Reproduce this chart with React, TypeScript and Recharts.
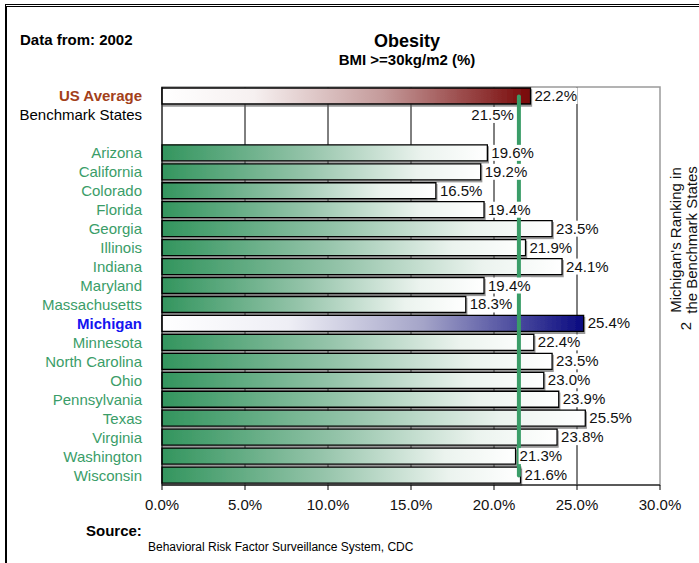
import React from 'react';
import { ComposedChart, Bar, XAxis, YAxis, CartesianGrid, ReferenceLine, ReferenceArea, LabelList, Cell } from 'recharts';

const categories = [
  'US Average', 'Benchmark States', ' ',
  'Arizona', 'California', 'Colorado', 'Florida', 'Georgia', 'Illinois', 'Indiana',
  'Maryland', 'Massachusetts', 'Michigan', 'Minnesota', 'North Carolina', 'Ohio',
  'Pennsylvania', 'Texas', 'Virginia', 'Washington', 'Wisconsin',
];
const values = [
  22.2, 21.5, null,
  19.6, 19.2, 16.5, 19.4, 23.5, 21.9, 24.1,
  19.4, 18.3, 25.4, 22.4, 23.5, 23.0,
  23.9, 25.5, 23.8, 21.3, 21.6,
];
const xTicks = [0, 5, 10, 15, 20, 25, 30];
const benchmark = 21.5;
const michiganRank = '2';

const data = categories.map((name, i) => ({ name, value: values[i] }));

const font = '"Liberation Sans", Arial, Helvetica, sans-serif';

const labelColor = (name: string) => {
  if (name === 'US Average') return '#a3401a';
  if (name === 'Michigan') return '#1414f0';
  if (name === 'Benchmark States') return '#000';
  return '#3a9d68';
};

const CategoryTick = (props: any) => {
  const { x, y, payload } = props;
  const name = payload.value;
  const bold = name === 'US Average' || name === 'Michigan';
  return (
    <text x={x - 20} y={y} dy={5} textAnchor="end" fontSize={15} fontFamily={font}
      fontWeight={bold ? 700 : 400} fill={labelColor(name)}>
      {name}
    </text>
  );
};

const ValueLabel = (props: any) => {
  const { x, y, width, height, value, index } = props;
  if (value == null) return null;
  const txt = `${Number(value).toFixed(1)}%`;
  const w = txt.length * 8.4;
  const isBench = categories[index] === 'Benchmark States';
  const tx = isBench ? x + width - 5 : x + width + 4;
  const rx = isBench ? tx - w - 1 : tx - 1;
  const cy = y + height / 2;
  return (
    <g>
      <rect x={rx} y={cy - 8} width={w + 2} height={16} fill="#fff" />
      <text x={tx} y={cy} dy={5} textAnchor={isBench ? 'end' : 'start'} fontSize={15}
        fontFamily={font} fill="#111">
        {txt}
      </text>
    </g>
  );
};

const fillFor = (name: string) => {
  if (name === 'US Average') return 'url(#gradRed)';
  if (name === 'Michigan') return 'url(#gradBlue)';
  if (name === 'Benchmark States') return 'none';
  return 'url(#gradGreen)';
};

export default function App() {
  return (
    <div style={{ position: 'absolute', left: 0, top: 0, width: 699, height: 563, background: '#fff', fontFamily: font, overflow: 'hidden' }}>
      <div style={{ position: 'absolute', left: 5, top: 4, width: 700, height: 600, borderLeft: '2px solid #000', borderTop: '3px double #000' }} />
      <div style={{ position: 'absolute', left: 20, top: 31, fontSize: 15, fontWeight: 700 }}>Data from: 2002</div>
      <div style={{ position: 'absolute', left: 257, width: 300, top: 31, textAlign: 'center', fontSize: 18, fontWeight: 700 }}>Obesity</div>
      <div style={{ position: 'absolute', left: 257, width: 300, top: 51, textAlign: 'center', fontSize: 15, fontWeight: 700 }}>BMI &gt;=30kg/m2 (%)</div>
      <div style={{ position: 'absolute', left: 86, top: 522, fontSize: 15, fontWeight: 700 }}>Source:</div>
      <div style={{ position: 'absolute', left: 148, top: 540, fontSize: 12 }}>Behavioral Risk Factor Surveillance System, CDC</div>
      <div style={{ position: 'absolute', left: 0, top: 0 }}>
        <ComposedChart width={699} height={563} data={data} layout="vertical"
          margin={{ top: 87, right: 39, bottom: 48, left: 0 }} barSize={16}>
          <defs>
            <linearGradient id="gradGreen" x1="0" y1="0" x2="1" y2="0">
              <stop offset="0" stopColor="#33955e" />
              <stop offset="0.45" stopColor="#95c4aa" />
              <stop offset="0.8" stopColor="#ebf3ee" />
              <stop offset="1" stopColor="#ffffff" />
            </linearGradient>
            <linearGradient id="gradRed" x1="0" y1="0" x2="1" y2="0">
              <stop offset="0" stopColor="#ffffff" />
              <stop offset="0.25" stopColor="#f6f0f0" />
              <stop offset="0.6" stopColor="#c49a9a" />
              <stop offset="1" stopColor="#780808" />
            </linearGradient>
            <linearGradient id="gradBlue" x1="0" y1="0" x2="1" y2="0">
              <stop offset="0" stopColor="#ffffff" />
              <stop offset="0.3" stopColor="#eeeef5" />
              <stop offset="0.62" stopColor="#a4a4c8" />
              <stop offset="1" stopColor="#0a0a80" />
            </linearGradient>
            <filter id="barShadow" x="-5%" y="-20%" width="110%" height="160%">
              <feDropShadow dx="1" dy="2" stdDeviation="0.6" floodColor="#555" floodOpacity="0.6" />
            </filter>
          </defs>
          <CartesianGrid horizontal={false} stroke="#000" verticalValues={[5, 10, 15, 20, 25]} />
          <ReferenceArea x1={0} x2={30} fill="none" stroke="#9a9a9a" strokeWidth={1.5} />
          <XAxis type="number" domain={[0, 30]} ticks={xTicks} interval={0}
            tickFormatter={(v: number) => `${v.toFixed(1)}%`}
            stroke="#000" tickSize={5} tickMargin={9}
            tick={{ fontSize: 15, fill: '#111', fontFamily: font }} height={30} />
          <YAxis type="category" dataKey="name" width={162} stroke="#000"
            tickLine={false} tickSize={0} tickMargin={0} interval={0} tick={<CategoryTick />} />
          <Bar dataKey="value" isAnimationActive={false} stroke="#000" strokeWidth={1.3}>
            {data.map((d) => (
              <Cell key={d.name} fill={fillFor(d.name)}
                stroke={d.name === 'Benchmark States' ? 'none' : '#000'}
                filter={d.name === 'Benchmark States' ? undefined : 'url(#barShadow)'} />
            ))}
            <LabelList dataKey="value" content={<ValueLabel />} />
          </Bar>
          <ReferenceLine
            segment={[{ x: benchmark, y: 'US Average' }, { x: benchmark, y: 'Wisconsin' }]}
            stroke="#3a9d68" strokeWidth={4} strokeLinecap="round" />
        </ComposedChart>
      </div>
      <svg style={{ position: 'absolute', left: 0, top: 0 }} width={699} height={563}>
        <text transform="translate(681,240) rotate(-90)" textAnchor="middle" fontSize={15} fontFamily={font} fill="#111">Michigan's Ranking in</text>
        <text transform="translate(697,240) rotate(-90)" textAnchor="middle" fontSize={15} fontFamily={font} fill="#111">the Benchmark States</text>
        <text transform="translate(691,326) rotate(-90)" textAnchor="middle" fontSize={15} fontFamily={font} fill="#111">{michiganRank}</text>
      </svg>
    </div>
  );
}
